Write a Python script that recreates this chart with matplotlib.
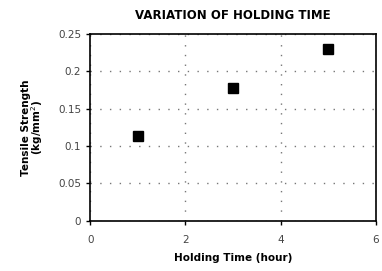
import matplotlib
matplotlib.use("Agg")
import matplotlib.pyplot as plt

plt.rcParams['font.family'] = ['DejaVu Sans']

hours = [1, 3, 5]
strength = [0.113, 0.178, 0.230]
xticks = [0, 2, 4, 6]
yticks = [0, 0.05, 0.1, 0.15, 0.2, 0.25]
ytick_labels = ['0', '0.05', '0.1', '0.15', '0.2', '0.25']

fig = plt.figure(figsize=(3.82, 2.71), dpi=100)
ax = fig.add_axes([0.236, 0.185, 0.748, 0.690])

ax.plot(hours, strength, 's', color='black', markersize=7, zorder=5)

ax.set_xlim(0, 6)
ax.set_ylim(0, 0.25)
ax.set_xticks(xticks)
ax.set_yticks(yticks)
ax.set_yticklabels(ytick_labels)
ax.tick_params(axis='both', labelsize=7.5, length=3, width=1, color='black',
               labelcolor='#444444', direction='out')
ax.tick_params(axis='x', pad=7)
ax.grid(True, linestyle=(0, (1, 6)), color='#777777', linewidth=1)
for s in ax.spines.values():
    s.set_linewidth(1.2)
    s.set_zorder(3)

ax.set_xlabel('Holding Time (hour)', fontsize=7.5, fontweight='bold', labelpad=6)
ax.set_ylabel('Tensile Strength\n(kg/mm$^2$)', fontsize=7.5, fontweight='bold',
              labelpad=9, linespacing=0.9)
ax.set_title('VARIATION OF HOLDING TIME', fontsize=8.5, fontweight='bold', pad=11)

fig.savefig('out.png', dpi=100)
